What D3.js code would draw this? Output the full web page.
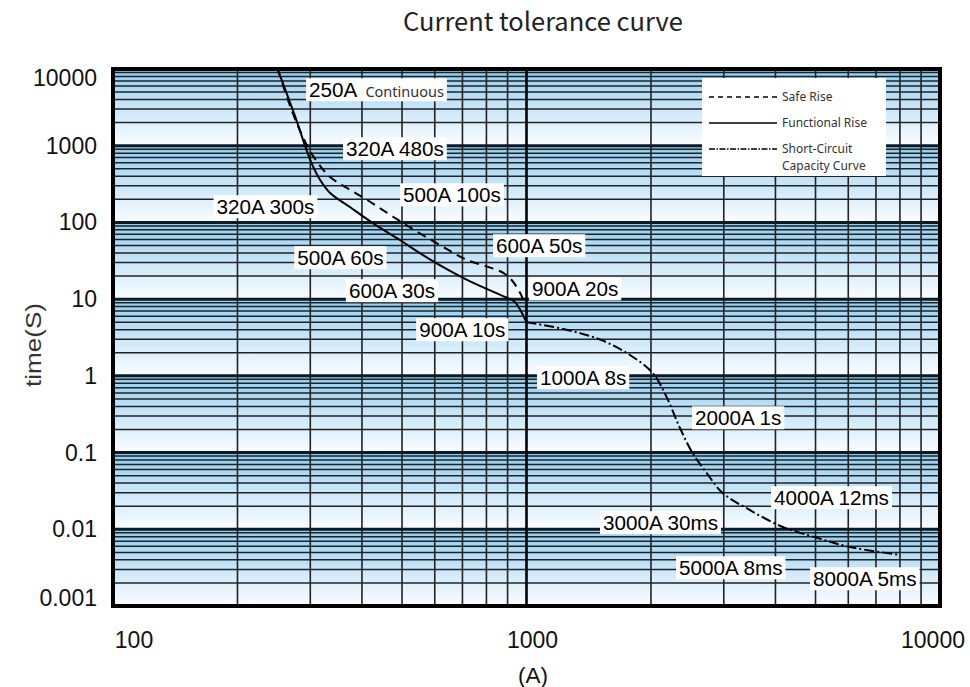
<!DOCTYPE html>
<html><head><meta charset="utf-8">
<script src="https://cdn.jsdelivr.net/npm/d3@7"></script>
<style>html,body{margin:0;padding:0;background:#fff;}svg{display:block;}</style>
</head><body>
<svg id="chart" width="970" height="687"></svg>
<script>
// ---- data ----
const safeCurrent = [250, 261, 272, 283, 296, 313, 335, 368, 412, 503, 628, 718, 887, 954, 1000, 1000];
const safeTime    = [10000, 5000, 2670, 1600, 960, 595, 391, 281, 196, 98, 48, 32.4, 21.3, 13.5, 7.2, 5];
const funcCurrent = [250, 275, 300, 317, 335, 374, 425, 494, 584, 716, 894, 935, 1000];
const funcTime    = [10000, 2500, 651, 357, 242, 159, 98, 59, 33, 18, 10.5, 9.3, 5];
const scCurrent   = [1000, 1249, 1500, 1744, 2015, 2178, 2342, 2518, 2722, 2975, 3456, 4152, 5017, 6030, 7962];
const scTime      = [5, 4, 3, 2, 1.1, 0.54, 0.218, 0.1, 0.055, 0.030, 0.018, 0.0108, 0.0078, 0.0059, 0.00466];
const xTicks = [100, 1000, 10000];
const xTickLabels = ["100", "1000", "10000"];
const yTicks = [10000, 1000, 100, 10, 1, 0.1, 0.01, 0.001];
const yTickLabels = ["10000", "1000", "100", "10", "1", "0.1", "0.01", "0.001"];
const legendLabels = [["Safe Rise"], ["Functional Rise"], ["Short-Circuit", "Capacity Curve"]];
const labelTexts   = ["250A", "320A 480s", "500A 100s", "320A 300s", "500A 60s", "600A 50s", "900A 20s", "600A 30s", "900A 10s", "1000A 8s", "2000A 1s", "4000A 12ms", "3000A 30ms", "5000A 8ms", "8000A 5ms"];
const labelSubTexts = ["Continuous", "", "", "", "", "", "", "", "", "", "", "", "", "", ""];
const labelAnchorA = [298, 366, 503, 178, 279, 844, 1031, 372, 550, 1078, 2556, 3967, 1531, 2338, 4932];
const labelAnchorT = [5320, 906, 227, 159, 34.4, 49.3, 13.5, 12.8, 3.96, 0.937, 0.282, 0.02556, 0.01208, 0.003126, 0.002249];

// ---- layout ----
const L = 113, R = 940, T = 69, B = 606;
const x = d3.scaleLog().domain([100, 10000]).range([L, R]);
const y = d3.scaleLog().domain([0.001, 10000]).range([B, T]);
const svg = d3.select("#chart");
const defs = svg.append("defs");
const grad = defs.append("linearGradient").attr("id", "band").attr("x1", 0).attr("x2", 0).attr("y1", 0).attr("y2", 1);
grad.append("stop").attr("offset", "0%").attr("stop-color", "#8ccdf1");
grad.append("stop").attr("offset", "35%").attr("stop-color", "#b8def6");
grad.append("stop").attr("offset", "70%").attr("stop-color", "#ddf0fb");
grad.append("stop").attr("offset", "100%").attr("stop-color", "#fbfdff");
defs.append("clipPath").attr("id", "clip").append("rect").attr("x", L).attr("y", T).attr("width", R - L).attr("height", B - T);

// bands
const decades = d3.range(-3, 4);
svg.append("g").selectAll("rect").data(decades).join("rect")
  .attr("x", L).attr("width", R - L)
  .attr("y", d => y(Math.pow(10, d + 1)))
  .attr("height", d => y(Math.pow(10, d)) - y(Math.pow(10, d + 1)))
  .attr("fill", "url(#band)");

// grid
const grid = svg.append("g");
const minorY = [];
decades.forEach(d => { for (let k = 2; k <= 9; k++) minorY.push(k * Math.pow(10, d)); });
grid.append("g").selectAll("line").data(minorY).join("line")
  .attr("x1", L).attr("x2", R).attr("y1", d => y(d)).attr("y2", d => y(d))
  .attr("stroke", "#222").attr("stroke-width", 1.5);
const minorX = [];
[2, 3].forEach(d => { for (let k = 2; k <= 9; k++) minorX.push(k * Math.pow(10, d)); });
grid.append("g").selectAll("line").data(minorX).join("line")
  .attr("y1", T).attr("y2", B).attr("x1", d => x(d)).attr("x2", d => x(d))
  .attr("stroke", "#222").attr("stroke-width", 1.6);
grid.append("g").selectAll("line").data(yTicks).join("line")
  .attr("x1", L).attr("x2", R).attr("y1", d => y(d)).attr("y2", d => y(d))
  .attr("stroke", "#0d1b26").attr("stroke-width", 3);
grid.append("line").attr("x1", x(1000)).attr("x2", x(1000)).attr("y1", T).attr("y2", B)
  .attr("stroke", "#000").attr("stroke-width", 2.6);

// curves
const curves = svg.append("g").attr("clip-path", "url(#clip)");
const line = d3.line().x(d => x(d[0])).y(d => y(d[1])).curve(d3.curveCatmullRom.alpha(0.5));
curves.append("path").datum(safeCurrent.map((a, i) => [a, safeTime[i]]))
  .attr("d", line).attr("fill", "none").attr("stroke", "#000").attr("stroke-width", 2).attr("stroke-dasharray", "9,6");
curves.append("path").datum(funcCurrent.map((a, i) => [a, funcTime[i]]))
  .attr("d", line).attr("fill", "none").attr("stroke", "#000").attr("stroke-width", 2);
curves.append("path").datum(scCurrent.map((a, i) => [a, scTime[i]]))
  .attr("d", line).attr("fill", "none").attr("stroke", "#000").attr("stroke-width", 2).attr("stroke-dasharray", "10,3,2,3");

// border
svg.append("rect").attr("x", L).attr("y", T).attr("width", R - L).attr("height", B - T)
  .attr("fill", "none").attr("stroke", "#000").attr("stroke-width", 4);

// annotation labels
const ann = svg.append("g");
labelTexts.forEach((t, i) => {
  const g = ann.append("g");
  const px = x(labelAnchorA[i]), py = y(labelAnchorT[i]);
  const txt = g.append("text").attr("x", px).attr("y", py).attr("dy", "0.35em")
    .attr("font-family", "Liberation Sans, Arial, sans-serif").attr("font-size", 20.7).attr("fill", "#000");
  txt.append("tspan").text(t);
  if (labelSubTexts[i]) {
    txt.append("tspan").attr("dx", 8).attr("font-family", "Noto Sans, sans-serif").attr("font-size", 14.5).attr("fill", "#333").text(labelSubTexts[i]);
  }
  const bb = txt.node().getBBox();
  g.insert("rect", "text").attr("x", bb.x - 3).attr("y", bb.y).attr("width", bb.width + 6).attr("height", bb.height)
    .attr("fill", "#fff");
});

// legend
const lg = svg.append("g");
lg.append("rect").attr("x", 702).attr("y", 78).attr("width", 184).attr("height", 98).attr("fill", "#fff");
const dashes = ["5,4", null, "6,1.5,1.5,1.5"];
const ly = [97, 123, 149];
legendLabels.forEach((lab, i) => {
  const l = lg.append("line").attr("x1", 709).attr("x2", 777).attr("y1", ly[i]).attr("y2", ly[i])
    .attr("stroke", "#000").attr("stroke-width", i === 1 ? 1.6 : 1.4);
  if (dashes[i]) l.attr("stroke-dasharray", dashes[i]);
  lab.forEach((s, j) => {
    lg.append("text").attr("x", 782).attr("y", ly[i] + j * 17).attr("dy", "0.35em")
      .attr("font-family", "Noto Sans, sans-serif").attr("font-size", 12).attr("fill", "#333").text(s);
  });
});

// axes labels
const tickFont = "Liberation Sans, Arial, sans-serif";
svg.append("g").selectAll("text").data(yTicks).join("text")
  .attr("x", 97).attr("y", d => Math.min(598, Math.max(78, y(d))))
  .attr("dy", "0.35em").attr("text-anchor", "end")
  .attr("font-family", tickFont).attr("font-size", 23).attr("fill", "#111")
  .text((d, i) => yTickLabels[i]);
svg.append("g").selectAll("text").data(xTicks).join("text")
  .attr("x", d => Math.min(933, Math.max(134, x(d) + 6))).attr("y", 640)
  .attr("dy", "0.35em").attr("text-anchor", "middle")
  .attr("font-family", tickFont).attr("font-size", 23).attr("fill", "#111")
  .text((d, i) => xTickLabels[i]);
svg.append("text").attr("x", 533).attr("y", 675).attr("dy", "0.35em").attr("text-anchor", "middle")
  .attr("font-family", tickFont).attr("font-size", 22.5).attr("fill", "#111").text("(A)");
svg.append("text").attr("transform", "translate(33,345) rotate(-90)").attr("dy", "0.35em").attr("text-anchor", "middle")
  .attr("font-family", tickFont).attr("font-size", 22).attr("fill", "#333")
  .attr("textLength", 84).attr("lengthAdjust", "spacingAndGlyphs").text("time(S)");
svg.append("text").attr("x", 543).attr("y", 22).attr("dy", "0.35em").attr("text-anchor", "middle")
  .attr("font-family", "Noto Sans CJK SC, Noto Sans, sans-serif").attr("font-size", 25.5).attr("fill", "#222")
  .text("Current tolerance curve");
</script>
</body></html>
